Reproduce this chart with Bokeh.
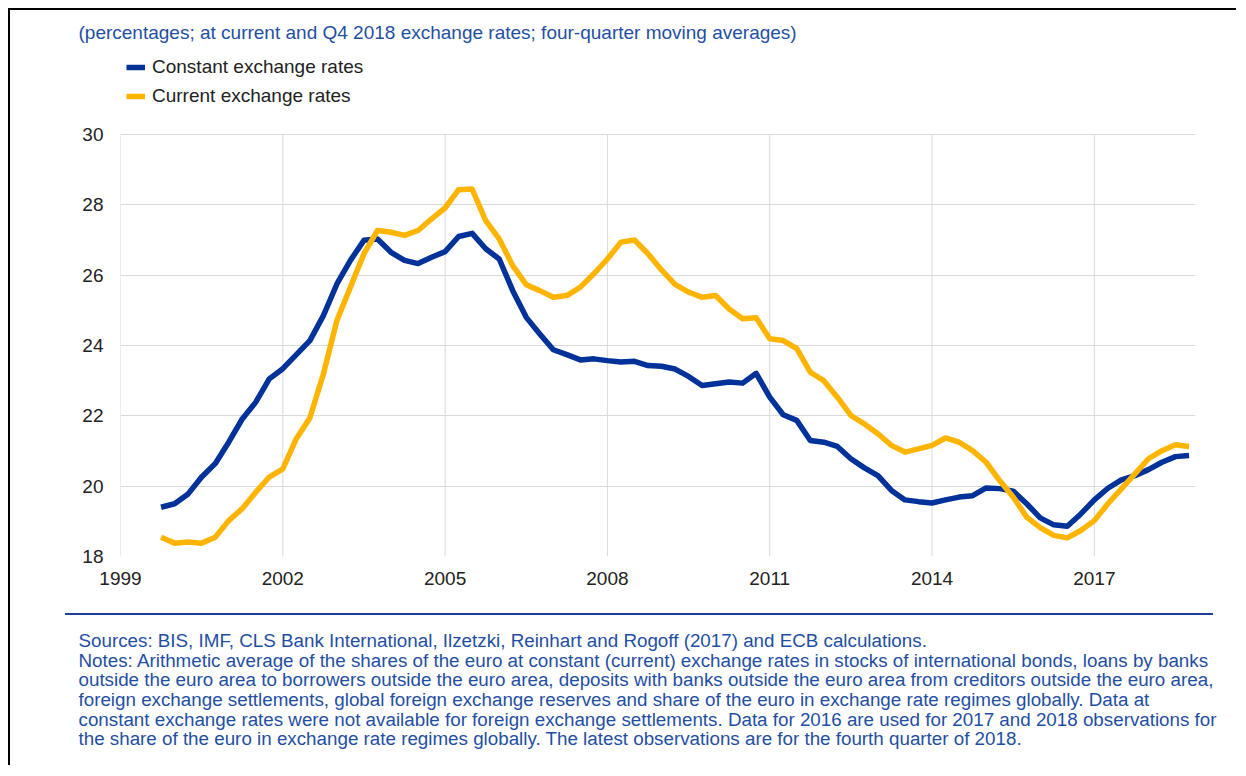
from bokeh.plotting import figure
from bokeh.layouts import column, row
from bokeh.models import Range1d, FixedTicker, Legend, LegendItem, Title, Spacer
from bokeh.embed import file_html
from bokeh.resources import INLINE

# ---------------- data ----------------
first_quarter = 1999.75  # Q4 1999
constant_rates = [
    19.40, 19.50, 19.78, 20.26, 20.64, 21.25, 21.91, 22.39, 23.05, 23.34,
    23.74, 24.14, 24.85, 25.75, 26.42, 26.99, 27.03, 26.65, 26.42, 26.33,
    26.51, 26.67, 27.10, 27.19, 26.75, 26.46, 25.56, 24.80, 24.33, 23.88,
    23.74, 23.59, 23.62, 23.57, 23.53, 23.55, 23.43, 23.41, 23.33, 23.12,
    22.86, 22.91, 22.96, 22.93, 23.21, 22.53, 22.03, 21.87, 21.30, 21.25,
    21.13, 20.78, 20.52, 20.30, 19.88, 19.61, 19.56, 19.52, 19.61, 19.69,
    19.73, 19.95, 19.93, 19.86, 19.50, 19.10, 18.90, 18.86, 19.21, 19.61,
    19.94, 20.18, 20.30, 20.47, 20.68, 20.84, 20.87,
]
current_rates = [
    18.55, 18.38, 18.41, 18.38, 18.55, 19.02, 19.36, 19.83, 20.26, 20.49,
    21.35, 21.94, 23.19, 24.71, 25.66, 26.61, 27.27, 27.22, 27.13, 27.27,
    27.60, 27.91, 28.43, 28.45, 27.55, 27.03, 26.27, 25.73, 25.56, 25.37,
    25.42, 25.66, 26.04, 26.46, 26.94, 27.00, 26.61, 26.15, 25.74, 25.52,
    25.37, 25.42, 25.04, 24.76, 24.79, 24.19, 24.14, 23.91, 23.24, 23.00,
    22.53, 22.01, 21.77, 21.49, 21.16, 20.97, 21.06, 21.16, 21.37, 21.25,
    21.01, 20.68, 20.16, 19.69, 19.12, 18.82, 18.60, 18.53, 18.74, 19.02,
    19.50, 19.92, 20.35, 20.78, 21.01, 21.18, 21.13,
]
quarters = [first_quarter + 0.25 * i for i in range(len(constant_rates))]

x_ticks = [1999, 2002, 2005, 2008, 2011, 2014, 2017]
y_ticks = [18, 20, 22, 24, 26, 28, 30]
y_min, y_max = 18, 30
series_labels = ["Constant exchange rates", "Current exchange rates"]
subtitle = "(percentages; at current and Q4 2018 exchange rates; four-quarter moving averages)"
notes_lines = [
    "Sources: BIS, IMF, CLS Bank International, Ilzetzki, Reinhart and Rogoff (2017) and ECB calculations.",
    "Notes: Arithmetic average of the shares of the euro at constant (current) exchange rates in stocks of international bonds, loans by banks",
    "outside the euro area to borrowers outside the euro area, deposits with banks outside the euro area from creditors outside the euro area,",
    "foreign exchange settlements, global foreign exchange reserves and share of the euro in exchange rate regimes globally. Data at",
    "constant exchange rates were not available for foreign exchange settlements. Data for 2016 are used for 2017 and 2018 observations for",
    "the share of the euro in exchange rate regimes globally. The latest observations are for the fourth quarter of 2018.",
]

# ---------------- style ----------------
FONT = "Liberation Sans"
BLUE = "#003299"
YELLOW = "#ffb400"
TEXT_BLUE = "#1f4fa3"
GRID = "#dadada"
W = 1226

# ---------------- main chart ----------------
MAIN_H = 590
y_top = y_max + 84 * (y_max - y_min) / 422   # room inside the frame for the legend
p = figure(
    width=W, height=MAIN_H,
    x_range=Range1d(1999, 2018.87), y_range=Range1d(y_min, y_top),
    output_backend="svg", toolbar_location=None,
    min_border_left=110, min_border_right=41,
    min_border_top=40, min_border_bottom=44,
)
p.outline_line_color = None
p.background_fill_color = "white"
p.border_fill_color = "white"

p.title.text = subtitle
p.title.align = "left"
p.title.offset = -42
p.title.standoff = 15
p.title.text_font = FONT
p.title.text_font_size = "19px"
p.title.text_font_style = "normal"
p.title.text_color = TEXT_BLUE

p.xaxis.ticker = FixedTicker(ticks=x_ticks)
p.yaxis.ticker = FixedTicker(ticks=y_ticks)
for ax in (p.xaxis[0], p.yaxis[0]):
    ax.axis_line_color = None
    ax.major_tick_line_color = None
    ax.minor_tick_line_color = None
    ax.major_tick_out = 0
    ax.major_tick_in = 0
    ax.major_label_text_font = FONT
    ax.major_label_text_font_size = "19px"
    ax.major_label_text_color = "#222222"
p.yaxis.major_label_standoff = 17
p.xaxis.major_label_standoff = 15

p.xgrid.visible = False
p.ygrid.ticker = FixedTicker(ticks=y_ticks)
p.ygrid.grid_line_color = GRID
p.ygrid.grid_line_width = 1
# vertical grid lines limited to the 18-30 band
p.segment(x0=x_ticks, y0=[y_min] * len(x_ticks), x1=x_ticks, y1=[y_max] * len(x_ticks),
          line_color=GRID, line_width=1)

r_const = p.line(quarters, constant_rates, line_width=5.5, line_color=BLUE, line_join="round")
r_curr = p.line(quarters, current_rates, line_width=5.5, line_color=YELLOW, line_join="round")

legend = Legend(
    items=[LegendItem(label=series_labels[0], renderers=[r_const]),
           LegendItem(label=series_labels[1], renderers=[r_curr])],
    location=(6, 449), orientation="vertical",
    border_line_color=None, background_fill_alpha=0,
    padding=0, margin=0, spacing=7,
    glyph_width=19, glyph_height=20, label_height=20, label_standoff=7,
    label_text_font=FONT, label_text_font_size="19px", label_text_color="#222222",
)
p.add_layout(legend, "center")

# ---------------- separator (built from spacers, no CSS margins) ----------------
gap = Spacer(width=W, height=13)
sep_row = row(Spacer(width=55, height=2),
              Spacer(width=1148, height=2, styles={"background-color": "#1d3f9a"}),
              spacing=0)

# ---------------- notes ----------------
NOTES_H = 134
notes = figure(width=W, height=NOTES_H, title=None,
               x_range=Range1d(0, 1), y_range=Range1d(0, 1),
               output_backend="svg", toolbar_location=None,
               x_axis_location=None, y_axis_location=None,
               min_border_left=0, min_border_right=0,
               min_border_top=0, min_border_bottom=0)
notes.outline_line_color = None
notes.xgrid.visible = False
notes.ygrid.visible = False
notes.background_fill_color = "white"
notes.border_fill_color = "white"
notes.add_layout(Title(text="\n".join(notes_lines), align="left", offset=-42, standoff=0,
                       text_font=FONT, text_font_size="18.8px", text_font_style="normal",
                       text_color=TEXT_BLUE, text_line_height=0.94), "below")

inner = column(p, gap, sep_row, notes, spacing=0)

# thin black frame lines on the left and top of the page
top_bar = Spacer(width=W + 2, height=2, styles={"background-color": "#000000"})
left_bar = Spacer(width=2, height=755, styles={"background-color": "#000000"})
framed = column(top_bar, row(left_bar, inner, spacing=0), spacing=0)

page = column(Spacer(width=W + 10, height=8),
              row(Spacer(width=8, height=757), framed, spacing=0),
              spacing=0)

open("out.html", "w").write(file_html(page, INLINE))
